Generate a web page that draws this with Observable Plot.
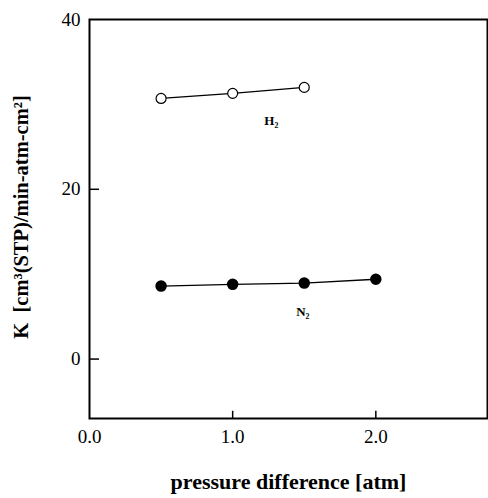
<!DOCTYPE html>
<html>
<head>
<meta charset="utf-8">
<script src="https://cdn.jsdelivr.net/npm/d3@7"></script>
<script src="https://cdn.jsdelivr.net/npm/@observablehq/plot@0.6"></script>
<style>
  html, body { margin: 0; padding: 0; background: #fff; }
  svg { display: block; }
  svg text { font-family: "Liberation Serif", "Times New Roman", serif; }
</style>
</head>
<body>
<div id="chart"></div>
<script>
// Data
const pressureH2 = [0.5, 1.0, 1.5];
const kH2 = [30.7, 31.3, 32.0];
const pressureN2 = [0.5, 1.0, 1.5, 2.0];
const kN2 = [8.6, 8.8, 8.95, 9.4];

const xTicks = [0, 1, 2];
const xTickLabels = ["0.0", "1.0", "2.0"];
const yTicks = [0, 20, 40];

const seriesLabels = [
  {name: "H₂", x: 1.27, y: 28.1},
  {name: "N₂", x: 1.49, y: 5.6}
];

const xTitle = "pressure difference [atm]";
const yTitle = "K  [cm³(STP)/min-atm-cm²]";

const h2 = pressureH2.map((x, i) => ({x, y: kH2[i]}));
const n2 = pressureN2.map((x, i) => ({x, y: kN2[i]}));

const serif = "Liberation Serif";

const chart = Plot.plot({
  width: 488,
  height: 498,
  marginLeft: 89,
  marginTop: 19,
  marginRight: 1,
  marginBottom: 80,
  style: {background: "#fff", color: "#000"},
  x: {domain: [0, 2.78]},
  y: {domain: [-7, 40]},
  marks: [
    Plot.frame({stroke: "#000", strokeWidth: 2}),
    Plot.axisX(xTicks, {tickSize: 0, tickPadding: 11, fontSize: 19, fontFamily: serif, tickFormat: (d, i) => xTickLabels[i], label: null}),
    Plot.axisY(yTicks, {tickSize: 0, tickPadding: 9, fontSize: 19, fontFamily: serif, label: null}),
    Plot.ruleX(xTicks.slice(1), {y1: -7, y2: -6.15, stroke: "#000", strokeWidth: 1.5}),
    Plot.ruleY(yTicks.slice(0, 2), {x1: 0, x2: 0.07, stroke: "#000", strokeWidth: 1.5}),
    Plot.line(h2, {x: "x", y: "y", stroke: "#000", strokeWidth: 1.3}),
    Plot.line(n2, {x: "x", y: "y", stroke: "#000", strokeWidth: 1.3}),
    Plot.dot(h2, {x: "x", y: "y", r: 5, fill: "#fff", stroke: "#000", strokeWidth: 1.2}),
    Plot.dot(n2, {x: "x", y: "y", r: 5, fill: "#000", stroke: "#000"}),
    Plot.text(seriesLabels, {x: "x", y: "y", text: "name", fontSize: 13, fontWeight: "bold", fontFamily: serif, fill: "#000"}),
    Plot.text([xTitle], {frameAnchor: "bottom", dy: 70, fontSize: 22, fontWeight: "bold", fontFamily: serif, fill: "#000"}),
    Plot.text([yTitle], {frameAnchor: "left", textAnchor: "middle", dx: -68, dy: -2, rotate: -90, fontSize: 20.5, fontWeight: "bold", fontFamily: serif, fill: "#000"})
  ]
});
document.getElementById("chart").appendChild(chart);
</script>
</body>
</html>
